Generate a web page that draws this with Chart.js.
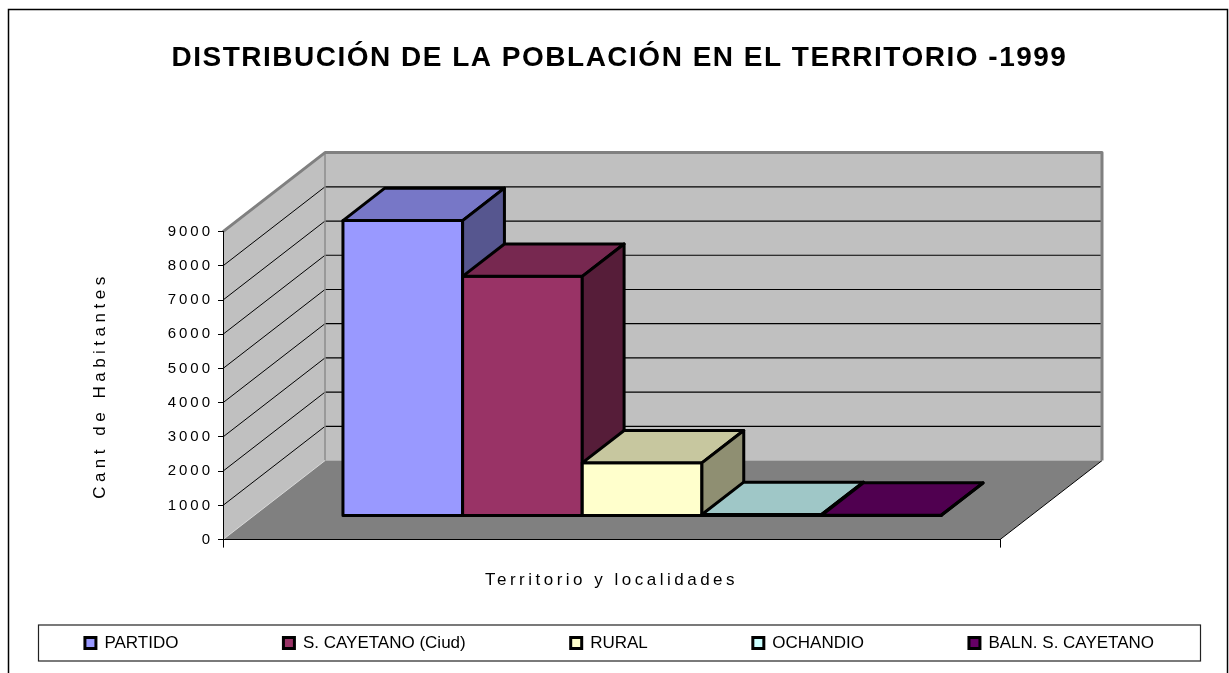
<!DOCTYPE html>
<html>
<head>
<meta charset="utf-8">
<script src="https://cdn.jsdelivr.net/npm/chart.js@4.4.1/dist/chart.umd.min.js"></script>
<style>
  html, body { margin: 0; padding: 0; background: #fff; }
  canvas { display: block; }
</style>
</head>
<body>
<canvas id="c" width="1229" height="673"></canvas>
<script>
// ---------- data ----------
const categories = [''];
const seriesNames = ['PARTIDO', 'S. CAYETANO (Ciud)', 'RURAL', 'OCHANDIO', 'BALN. S. CAYETANO'];
const population = [8630, 7000, 1550, 40, 20];
const seriesColors = ['#9999FF', '#993366', '#FFFFCC', '#CCFFFF', '#660066'];
const yMin = 0;
const yMax = 9000;
const yStep = 1000;
const titleText = 'DISTRIBUCIÓN DE LA POBLACIÓN EN EL TERRITORIO -1999';
const yTitleText = 'Cant de Habitantes';
const xTitleText = 'Territorio y localidades';

// ---------- style ----------
const FONT = '"Liberation Sans", Arial, Helvetica, sans-serif';
const DX = 102, DY = -79;          // 3D depth vector
const F0 = 0.30, F1 = 0.71;        // bar depth range (fraction of total depth)
const LEGEND_PAD = 105;

function shade(hex, f) {
  const n = parseInt(hex.slice(1), 16);
  const r = Math.round(((n >> 16) & 255) * f), g = Math.round(((n >> 8) & 255) * f), b = Math.round((n & 255) * f);
  return 'rgb(' + r + ',' + g + ',' + b + ')';
}
function poly(ctx, pts, fill, stroke, lw) {
  ctx.beginPath();
  ctx.moveTo(pts[0][0], pts[0][1]);
  for (let i = 1; i < pts.length; i++) ctx.lineTo(pts[i][0], pts[i][1]);
  ctx.closePath();
  if (fill) { ctx.fillStyle = fill; ctx.fill(); }
  if (stroke) { ctx.strokeStyle = stroke; ctx.lineWidth = lw || 1; ctx.stroke(); }
}
function line(ctx, x1, y1, x2, y2, color, lw) {
  ctx.beginPath(); ctx.moveTo(x1, y1); ctx.lineTo(x2, y2);
  ctx.strokeStyle = color; ctx.lineWidth = lw; ctx.stroke();
}
function wrapSpacing(obj, method, spacing) {
  const orig = obj[method];
  if (!orig || orig.__spaced) return;
  const w = function () {
    const ctx = this.ctx;
    ctx.save();
    ctx.letterSpacing = spacing;
    try { return orig.apply(this, arguments); } finally { ctx.restore(); }
  };
  w.__spaced = true;
  obj[method] = w;
}

const threeD = {
  id: 'threeD',
  afterInit(chart) {
    wrapSpacing(chart.titleBlock, 'draw', '1.5px');
    const L = chart.legend;
    const origFit = L.fit, origDraw = L.draw;
    L.fit = function () {
      const mw = this.maxWidth;
      this.maxWidth = 100000;
      origFit.call(this);
      this.maxWidth = mw;
      this.width = mw;
      this.height = 82;
    };
    L.draw = function () {
      const s = { l: this.left, r: this.right, t: this.top };
      const fs = this.options.labels.font.size;
      const textCenter = this.bottom - 30;
      this.left -= 300; this.right += 300;
      this.top = textCenter - fs / 2 - LEGEND_PAD;
      origDraw.call(this);
      this.left = s.l; this.right = s.r; this.top = s.t;
    };
  },
  beforeDraw(chart) {
    const ctx = chart.ctx;
    wrapSpacing(chart.scales.y, 'drawLabels', '3px');
    wrapSpacing(chart.scales.y, 'drawTitle', '4.5px');
    wrapSpacing(chart.scales.x, 'drawTitle', '3.5px');
    ctx.save();
    ctx.fillStyle = '#fff';
    ctx.fillRect(0, 0, chart.width, chart.height);
    const ca = chart.chartArea, ys = chart.scales.y;
    const L = ca.left, R = ca.right;
    const T = ys.getPixelForValue(ys.max), B = ys.getPixelForValue(ys.min);
    // walls & floor
    poly(ctx, [[L, B], [L, T], [L + DX, T + DY], [L + DX, B + DY]], '#c0c0c0');
    poly(ctx, [[L + DX, T + DY], [R + DX, T + DY], [R + DX, B + DY], [L + DX, B + DY]], '#c0c0c0');
    poly(ctx, [[L, B], [R, B], [R + DX, B + DY], [L + DX, B + DY]], '#808080');
    // gridlines
    ys.ticks.forEach(t => {
      if (t.value <= ys.min || t.value >= ys.max) return;
      const p = ys.getPixelForValue(t.value);
      line(ctx, L, p, L + DX, p + DY, '#000', 1);
      line(ctx, L + DX, p + DY, R + DX, p + DY, '#000', 1.2);
    });
    // edges
    line(ctx, L + DX, T + DY, L + DX, B + DY, '#8c8c8c', 1.5);
    line(ctx, L, B, L + DX, B + DY, '#d8d8d8', 1);
    line(ctx, R, B, R + DX, B + DY, '#000', 1);
    ctx.lineJoin = 'round';
    ctx.beginPath();
    ctx.moveTo(L, T); ctx.lineTo(L + DX, T + DY); ctx.lineTo(R + DX, T + DY); ctx.lineTo(R + DX, B + DY);
    ctx.strokeStyle = '#808080'; ctx.lineWidth = 3; ctx.stroke();
    ctx.restore();
  },
  beforeDatasetDraw() { return false; },
  afterDatasetsDraw(chart) {
    const ctx = chart.ctx;
    ctx.save();
    ctx.lineJoin = 'round';
    const fx = F0 * DX, fy = F0 * DY, dx = (F1 - F0) * DX, dy = (F1 - F0) * DY;
    chart.data.datasets.forEach((ds, i) => {
      const meta = chart.getDatasetMeta(i);
      meta.data.forEach(bar => {
        const p = bar.getProps(['x', 'y', 'base', 'width'], true);
        const x0 = p.x - p.width / 2, x1 = p.x + p.width / 2;
        const a = [x0 + fx, p.y + fy], b = [x1 + fx, p.y + fy], c = [x1 + fx, p.base + fy], d = [x0 + fx, p.base + fy];
        const a2 = [a[0] + dx, a[1] + dy], b2 = [b[0] + dx, b[1] + dy], c2 = [c[0] + dx, c[1] + dy];
        const col = ds.backgroundColor;
        poly(ctx, [a, b, c, d], col, '#000', 3);
        poly(ctx, [a, a2, b2, b], shade(col, 0.78), '#000', 3);
        poly(ctx, [b, b2, c2, c], shade(col, 0.56), '#000', 3);
      });
    });
    ctx.restore();
  },
  afterDraw(chart) {
    const ctx = chart.ctx;
    ctx.save();
    // legend frame
    const lg = chart.legend;
    const cy = lg.bottom - 30;
    ctx.strokeStyle = '#222'; ctx.lineWidth = 1.2;
    ctx.strokeRect(38.5, cy - 18, 1162, 36);
    // outer frame
    ctx.strokeStyle = '#000'; ctx.lineWidth = 1.5;
    ctx.strokeRect(8.5, 9.5, 1219, 700);
    ctx.restore();
  }
};

new Chart(document.getElementById('c').getContext('2d'), {
  type: 'bar',
  data: {
    labels: categories,
    datasets: seriesNames.map((name, i) => ({
      label: name,
      data: [population[i]],
      backgroundColor: seriesColors[i],
      borderColor: '#000',
      borderWidth: 3,
      categoryPercentage: 0.77,
      barPercentage: 1.0
    }))
  },
  options: {
    responsive: false,
    animation: false,
    devicePixelRatio: 1,
    events: [],
    layout: { padding: { left: 10, right: 0, top: 0, bottom: 0 } },
    plugins: {
      title: {
        display: true, text: titleText, color: '#000',
        font: { family: FONT, size: 28, weight: 'bold', lineHeight: 1.2 },
        padding: { top: 41, bottom: 157 }
      },
      legend: {
        position: 'bottom',
        labels: {
          color: '#000', font: { family: FONT, size: 17 },
          boxWidth: 11, boxHeight: 11, padding: LEGEND_PAD,
          generateLabels(chart) {
            const items = Chart.defaults.plugins.legend.labels.generateLabels(chart);
            items.forEach(it => { it.lineWidth = 3; it.strokeStyle = '#000'; });
            return items;
          }
        }
      },
      tooltip: { enabled: false }
    },
    scales: {
      x: {
        type: 'category', offset: true,
        grid: { display: true, drawOnChartArea: false, drawTicks: true, tickLength: 8, color: '#000', offset: true },
        border: { display: true, color: '#000', width: 1 },
        ticks: { display: false },
        title: { display: true, text: xTitleText, color: '#000', font: { family: FONT, size: 17 }, padding: { top: 23, bottom: 0 } }
      },
      y: {
        min: yMin, max: yMax,
        ticks: { stepSize: yStep, color: '#000', font: { family: FONT, size: 15 }, padding: 5, callback: v => String(v) },
        grid: { drawOnChartArea: false, drawTicks: true, tickLength: 5, color: '#000' },
        border: { display: true, color: '#000', width: 1 },
        title: { display: true, text: yTitleText, color: '#000', font: { family: FONT, size: 17 }, padding: { top: 80, bottom: 0 } },
        afterFit(s) { s.width = 213; }
      },
      yR: {
        type: 'linear', position: 'right', display: true,
        grid: { display: false }, ticks: { display: false }, border: { display: false },
        afterFit(s) { s.width = 229; }
      }
    }
  },
  plugins: [threeD]
});
</script>
</body>
</html>
